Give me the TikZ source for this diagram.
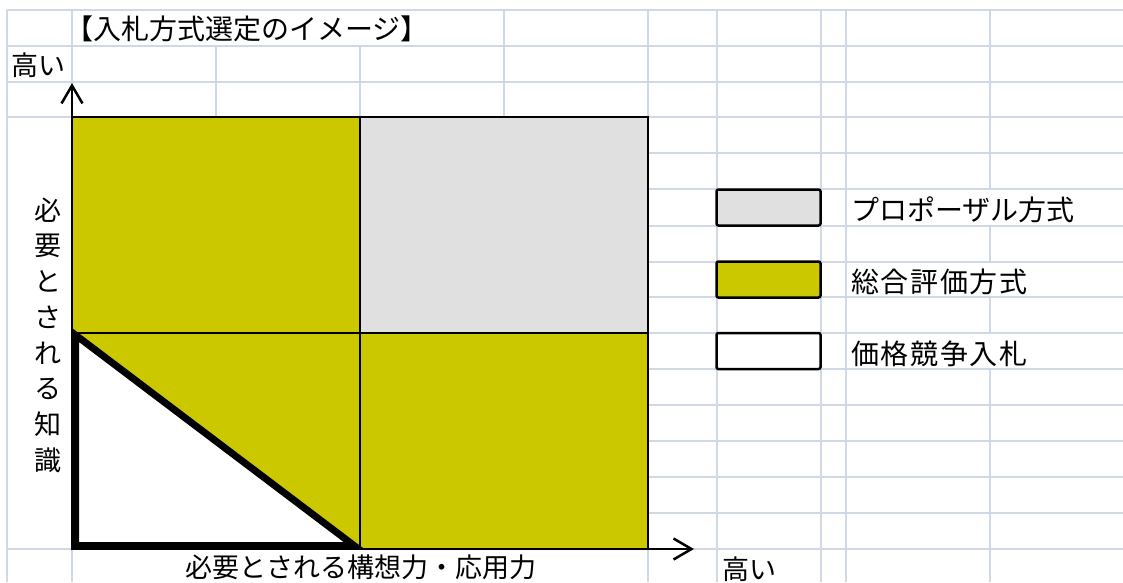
\documentclass[tikz,border=0pt]{standalone}
\usepackage{fontspec}
\newfontfamily\jp{Noto Sans CJK JP}
\newfontfamily\jpwide[LetterSpace=6]{Noto Sans CJK JP}
\usetikzlibrary{arrows.meta}
\definecolor{gridc}{RGB}{208,215,229}
\definecolor{olivefill}{RGB}{204,200,0}
\definecolor{propgray}{RGB}{224,224,224}
\begin{document}
\begin{tikzpicture}[x=1pt,y=-1pt,
  gridline/.style={gridc,line width=2pt},
  quadline/.style={draw=black,line width=2.5pt},
  txt/.style={font=\jp\fontsize{27}{30}\selectfont,inner sep=0pt,text=black},
  bigtxt/.style={font=\jp\fontsize{28}{30}\selectfont,inner sep=0pt,text=black},
  widetxt/.style={font=\jpwide\fontsize{28}{30}\selectfont,inner sep=0pt,text=black},
  axisarrow/.style={line width=2.5pt,-{Straight Barb[length=18pt,width=21pt]}},
  legendbox/.style={draw=black,line width=2.5pt,rounded corners=2pt,minimum width=104pt,minimum height=36pt,inner sep=0pt}
]
\useasboundingbox (0,0) rectangle (1123,582);
\fill[white] (0,0) rectangle (1123,582);
% spreadsheet grid
\foreach \y in {10,46,82,117,549} \draw[gridline] (7,\y) -- (1123,\y);
\foreach \y in {153,189,226,262,297,333,369,405,441,477,513} \draw[gridline] (648,\y) -- (1123,\y);
\foreach \x in {7,72,717,821,846} \draw[gridline] (\x,10) -- (\x,582);
\foreach \x in {216,360} \draw[gridline] (\x,46) -- (\x,117);
\draw[gridline] (504,10) -- (504,117);
\draw[gridline] (648,10) -- (648,117);
\draw[gridline] (648,549) -- (648,582);
\draw[gridline] (990,10) -- (990,189) (990,226) -- (990,262) (990,297) -- (990,333) (990,369) -- (990,582);
% chart corners
\coordinate (TL) at (72,117);
\coordinate (TR) at (648,117);
\coordinate (BL) at (72,549);
\coordinate (BR) at (648,549);
\coordinate (C) at (360,333);
\coordinate (ML) at (72,333);
\coordinate (MR) at (648,333);
\coordinate (MT) at (360,117);
\coordinate (MB) at (360,549);
\fill[olivefill] (TL) rectangle (C);
\fill[propgray] (MT) rectangle (MR);
\fill[olivefill] (ML) rectangle (BR);
\coordinate (T1) at (75.5,335);
\coordinate (T2) at (75.5,545.5);
\coordinate (T3) at (354,545.5);
\fill[white] (T1) -- (T2) -- (T3) -- cycle;
\draw[quadline] (TL) rectangle (BR);
\draw[quadline] (MT) -- (MB);
\draw[quadline] (ML) -- (MR);
\draw[line width=7pt,line join=miter] (T1) -- (T2) -- (T3) -- cycle;
% axes arrows
\coordinate (ytip) at (72,83);
\coordinate (xtip) at (694,549);
\draw[axisarrow] (TL) -- (ytip);
\draw[axisarrow] (BR) -- (xtip);
% texts
\node[bigtxt,anchor=west] (title) at (65,29) {【入札方式選定のイメージ】};
\node[txt,anchor=west] (hiY) at (11,65) {高い};
\node[txt] (xlabel) at (361,567) {必要とされる構想力・応用力};
\node[txt,anchor=west] (hiX) at (722,569) {高い};
\foreach \c [count=\i] in {必,要,と,さ,れ,る,知,識}
  \node[txt] (v\i) at (48,{174.5+35.7*\i}) {\c};
% legend
\node[legendbox,fill=propgray] (lg1) at (768.5,207.5) {};
\node[legendbox,fill=olivefill] (lg2) at (768.5,279.5) {};
\node[legendbox,fill=white] (lg3) at (768.5,351) {};
\node[bigtxt,anchor=west] (lt1) at (851,210) {プロポーザル方式};
\node[widetxt,anchor=west] (lt2) at (851,282) {総合評価方式};
\node[widetxt,anchor=west] (lt3) at (851,354) {価格競争入札};
\end{tikzpicture}
\end{document}
